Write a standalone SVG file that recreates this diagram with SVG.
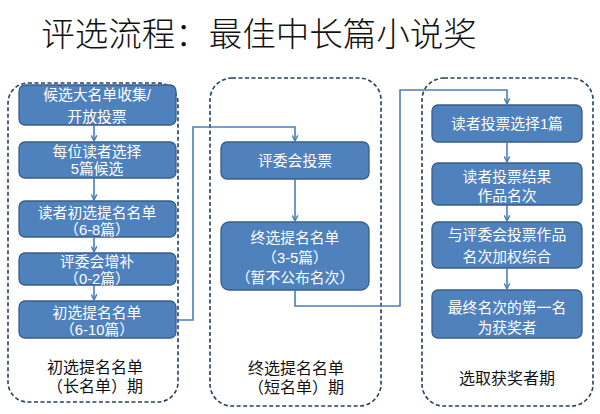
<svg xmlns="http://www.w3.org/2000/svg" width="600" height="414" viewBox="0 0 600 414">
<style>
.title{font-family:"Noto Sans CJK SC",sans-serif;font-size:33.5px;font-weight:300;fill:#111}
.cont{fill:none;stroke:#243F60;stroke-width:1.6;stroke-dasharray:4 2.5}
.box{fill:#4F81BD;stroke:#385D8A;stroke-width:1.3}
.bt{font-family:"Liberation Sans","Noto Sans CJK SC",sans-serif;font-size:14.8px;fill:#fff;text-anchor:middle}
.lb{font-family:"Liberation Sans","Noto Sans CJK SC",sans-serif;font-size:16px;fill:#111;text-anchor:middle}
.con{fill:none;stroke:#4A7EBB;stroke-width:1.6}
</style>
<defs>
<marker id="ah" viewBox="0 0 10 10" refX="9" refY="5" markerWidth="7" markerHeight="7" orient="auto" markerUnits="userSpaceOnUse">
<polyline points="1,1 9,5 1,9" fill="none" stroke="#4A7EBB" stroke-width="2"/>
</marker>
</defs>
<rect width="600" height="414" fill="#fff"/>
<text class="title" x="259" y="46" text-anchor="middle">评选流程：最佳中长篇小说奖</text>

<g id="phase1">
<rect class="cont" x="8" y="83" width="170" height="319" rx="20"/>
<text class="lb"><tspan x="95" y="373">初选提名名单</tspan><tspan x="95" y="392">（长名单）期</tspan></text>
</g>
<g id="phase2">
<rect class="cont" x="210" y="78" width="171" height="328" rx="22"/>
<text class="lb"><tspan x="296" y="374">终选提名名单</tspan><tspan x="296" y="393">（短名单）期</tspan></text>
</g>
<g id="phase3">
<rect class="cont" x="422" y="78" width="171" height="328" rx="22"/>
<text class="lb" x="507" y="384">选取获奖者期</text>
</g>

<g id="n1"><rect class="box" x="19" y="85" width="157" height="40" rx="6"/>
<text class="bt"><tspan x="97" y="100">候选大名单收集/</tspan><tspan x="97" y="122">开放投票</tspan></text></g>
<g id="n2"><rect class="box" x="19" y="142" width="157" height="36" rx="6"/>
<text class="bt"><tspan x="97" y="157">每位读者选择</tspan><tspan x="97" y="174">5篇候选</tspan></text></g>
<g id="n3"><rect class="box" x="19" y="201" width="157" height="36" rx="6"/>
<text class="bt"><tspan x="97" y="218">读者初选提名名单</tspan><tspan x="97" y="235">（6-8篇）</tspan></text></g>
<g id="n4"><rect class="box" x="19" y="253" width="157" height="32" rx="6"/>
<text class="bt"><tspan x="97" y="267">评委会增补</tspan><tspan x="97" y="284">（0-2篇）</tspan></text></g>
<g id="n5"><rect class="box" x="19" y="301" width="157" height="37" rx="6"/>
<text class="bt"><tspan x="97" y="318">初选提名名单</tspan><tspan x="97" y="335">（6-10篇）</tspan></text></g>

<g id="n6"><rect class="box" x="221" y="142" width="148" height="37" rx="6"/>
<text class="bt" x="295" y="166">评委会投票</text></g>
<g id="n7"><rect class="box" x="221" y="222" width="148" height="68" rx="8"/>
<text class="bt"><tspan x="295" y="243">终选提名名单</tspan><tspan x="295" y="263">（3-5篇）</tspan><tspan x="295" y="283">（暂不公布名次）</tspan></text></g>

<g id="n8"><rect class="box" x="432" y="105" width="150" height="37" rx="6"/>
<text class="bt" x="507" y="129">读者投票选择1篇</text></g>
<g id="n9"><rect class="box" x="432" y="163" width="150" height="42" rx="6"/>
<text class="bt"><tspan x="507" y="182">读者投票结果</tspan><tspan x="507" y="201">作品名次</tspan></text></g>
<g id="n10"><rect class="box" x="432" y="222" width="150" height="46" rx="6"/>
<text class="bt"><tspan x="507" y="240">与评委会投票作品</tspan><tspan x="507" y="262">名次加权综合</tspan></text></g>
<g id="n11"><rect class="box" x="432" y="290" width="150" height="48" rx="6"/>
<text class="bt"><tspan x="507" y="313">最终名次的第一名</tspan><tspan x="507" y="333">为获奖者</tspan></text></g>

<g id="connectors">
<line class="con" x1="94" y1="125" x2="94" y2="141" marker-end="url(#ah)"/>
<line class="con" x1="94" y1="178" x2="94" y2="200" marker-end="url(#ah)"/>
<line class="con" x1="94" y1="237" x2="94" y2="252" marker-end="url(#ah)"/>
<line class="con" x1="94" y1="285" x2="94" y2="300" marker-end="url(#ah)"/>
<polyline class="con" points="176,320 193,320 193,127 295,127 295,141" marker-end="url(#ah)"/>
<line class="con" x1="295" y1="179" x2="295" y2="221" marker-end="url(#ah)"/>
<polyline class="con" points="295,290 295,306 400,306 400,90 507,90 507,104" marker-end="url(#ah)"/>
<line class="con" x1="507" y1="142" x2="507" y2="162" marker-end="url(#ah)"/>
<line class="con" x1="507" y1="205" x2="507" y2="221" marker-end="url(#ah)"/>
<line class="con" x1="507" y1="268" x2="507" y2="289" marker-end="url(#ah)"/>
</g>
</svg>
